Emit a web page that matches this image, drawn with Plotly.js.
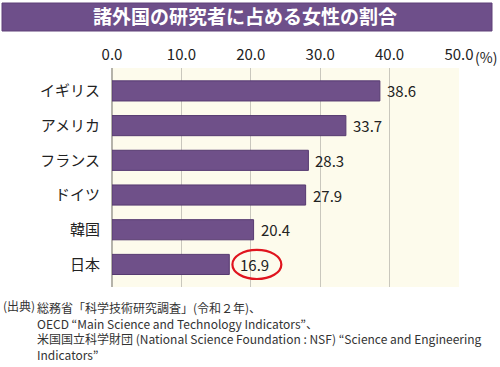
<!DOCTYPE html>
<html><head><meta charset="utf-8">
<script src="https://cdn.plot.ly/plotly-3.0.1.min.js"></script>
<style>html,body{margin:0;padding:0;background:#fff}</style>
</head><body><div id="chart" style="width:500px;height:367px"></div>
<script>
const countries = ["イギリス","アメリカ","フランス","ドイツ","韓国","日本"];
const values = [38.6, 33.7, 28.3, 27.9, 20.4, 16.9];
const valueLabels = ["38.6","33.7","28.3","27.9","20.4","16.9"];
const tickVals = [0,10,20,30,40,50];
const tickTexts = ["0.0","10.0","20.0","30.0","40.0","50.0"];
const titleText = "諸外国の研究者に占める女性の割合";
const unitText = "(%)";
const sourceHead = "(出典)";
const sourceLines = [
  "総務省「科学技術研究調査」(令和２年)、",
  "OECD “Main Science and Technology Indicators”、",
  "米国国立科学財団 (National Science Foundation : NSF) “Science and Engineering",
  "Indicators”"
];
const highlightIndex = 5;

const W=500,H=367,L=112,R=41,T=68,B=80;
const pw=W-L-R, ph=H-T-B;
const px=x=>(x-L)/pw, py=y=>(H-B-y)/ph;
const FONT = '"Noto Sans CJK JP", "Noto Sans", sans-serif';

const trace = {
  type:'bar', orientation:'h',
  x: values, y: countries,
  marker:{color:'#6f5089', line:{color:'#563a70', width:1}},
  width:0.58, hoverinfo:'none'
};

const annotations = [
  {xref:'paper',yref:'paper',x:px(473),y:py(57),text:unitText,showarrow:false,xanchor:'left',yanchor:'middle',font:{size:14,color:'#222',family:FONT}}
];
values.forEach((v,i)=>annotations.push({xref:'x',yref:'y',x:v,y:countries[i],text:valueLabels[i],showarrow:false,xanchor:'left',yanchor:'middle',xshift:(i===highlightIndex?9:5),font:{size:15,color:'#222',family:FONT}}));
annotations.push({xref:'paper',yref:'paper',x:px(1),y:py(305),text:sourceHead,showarrow:false,xanchor:'left',yanchor:'middle',font:{size:12,color:'#333',family:FONT}});
annotations.push({xref:'paper',yref:'paper',x:px(35),y:py(297),text:sourceLines.join('<br>'),align:'left',showarrow:false,xanchor:'left',yanchor:'top',font:{size:12,color:'#333',family:FONT}});

const hv = values[highlightIndex];
const shapes = [
  {type:'rect',xref:'paper',yref:'paper',x0:px(2),x1:px(492),y0:py(3),y1:py(31),fillcolor:'#6e4f8a',line:{color:'#5e4178',width:1},layer:'below'},
  {type:'circle',xref:'x',yref:'y',x0:hv+0.45,x1:hv+7.5,y0:highlightIndex-0.42,y1:highlightIndex+0.42,line:{color:'#e0141e',width:2.2},fillcolor:'rgba(0,0,0,0)'}
];

const layout = {
  width:W,height:H,margin:{l:L,r:R,t:T,b:B},
  paper_bgcolor:'#ffffff', plot_bgcolor:'#fdfbec',
  showlegend:false,
  title:{text:titleText,x:0.49,xref:'container',y:1-17/H,yref:'container',xanchor:'center',yanchor:'middle',font:{size:19,color:'#ffffff',family:FONT,weight:'bold'}},
  xaxis:{range:[0,50],side:'top',tickvals:tickVals,ticktext:tickTexts,showgrid:true,gridcolor:'#c9c7bd',gridwidth:1.2,zeroline:true,zerolinecolor:'#b5b3aa',zerolinewidth:1.5,showline:false,ticks:'',ticklabelstandoff:4,tickfont:{size:15,color:'#222',family:FONT},fixedrange:true},
  yaxis:{type:'category',categoryorder:'array',categoryarray:countries,range:[5.65,-0.66],showgrid:false,zeroline:false,showline:false,ticks:'',ticklabelstandoff:11,tickfont:{size:15,color:'#222',family:FONT},fixedrange:true},
  annotations:annotations, shapes:shapes,
  font:{family:FONT}
};
Plotly.newPlot('chart',[trace],layout,{staticPlot:true,displayModeBar:false});
</script></body></html>
